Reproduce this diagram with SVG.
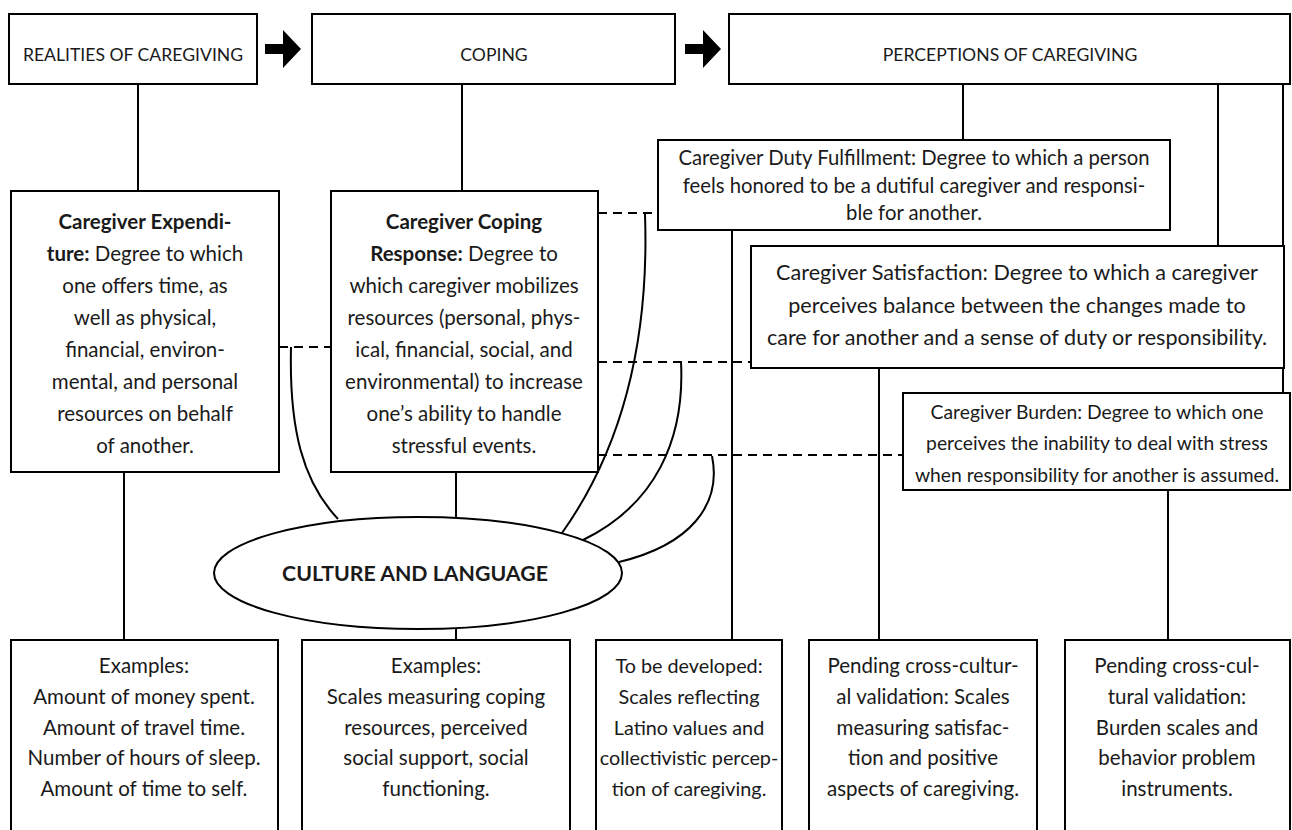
<svg xmlns="http://www.w3.org/2000/svg" width="1292" height="830" viewBox="0 0 1292 830">
<style>
.box{fill:#fff;stroke:#000;stroke-width:2}
.ln{fill:none;stroke:#000;stroke-width:2}
.dash{fill:none;stroke:#000;stroke-width:2;stroke-dasharray:9 6}
text{font-family:Lato,"Liberation Sans",sans-serif;fill:#1a1a1a;text-anchor:middle}
.h{font-size:17.6px}
.m{font-size:20.5px}
.b{font-size:20.5px}
.r{font-size:20.3px}
.s{font-size:21.6px}
.bu{font-size:19.3px}
.bold{font-weight:bold}
</style>
<rect width="1292" height="830" fill="#fff"/>
<g id="connectors">
<line class="ln" x1="138" y1="84" x2="138" y2="191"/>
<line class="ln" x1="462" y1="84" x2="462" y2="191"/>
<line class="ln" x1="963" y1="84" x2="963" y2="140"/>
<line class="ln" x1="1218" y1="84" x2="1218" y2="246"/>
<line class="ln" x1="1283" y1="84" x2="1283" y2="393"/>
<line class="ln" x1="124" y1="472" x2="124" y2="640"/>
<line class="ln" x1="456" y1="472" x2="456" y2="517"/>
<line class="ln" x1="456" y1="629" x2="456" y2="640"/>
<line class="ln" x1="732" y1="230" x2="732" y2="640"/>
<line class="ln" x1="879" y1="368" x2="879" y2="640"/>
<line class="ln" x1="1168" y1="490" x2="1168" y2="640"/>
<line class="dash" x1="279" y1="347" x2="331" y2="347"/>
<line class="dash" x1="598" y1="213" x2="658" y2="213"/>
<line class="dash" x1="598" y1="362" x2="751" y2="362"/>
<line class="dash" x1="598" y1="455" x2="903" y2="455"/>
<path class="ln" d="M291 347 C289 430 303 482 338 519"/>
<path class="ln" d="M645 214 C649 330 628 440 562 533"/>
<path class="ln" d="M681 362 C685 440 655 505 583 540"/>
<path class="ln" d="M712 456 C722 505 690 545 619 562"/>
<path d="M265 44 H283 V30 L301 49 L283 68 V54 H265 Z" fill="#000"/>
<path d="M685 44 H703 V30 L721 49 L703 68 V54 H685 Z" fill="#000"/>
</g>
<g id="realities">
<rect class="box" x="9" y="14" width="248" height="70"/>
<text class="h" x="133" y="61">REALITIES OF CAREGIVING</text>
</g>
<g id="coping">
<rect class="box" x="312" y="14" width="363" height="70"/>
<text class="h" x="494" y="61">COPING</text>
</g>
<g id="perceptions">
<rect class="box" x="729" y="14" width="561" height="70"/>
<text class="h" x="1010" y="61">PERCEPTIONS OF CAREGIVING</text>
</g>
<g id="expenditure">
<rect class="box" x="11" y="191" width="268" height="281"/>
<text class="m" x="145"><tspan class="bold" x="145" y="229">Caregiver Expendi-</tspan><tspan x="145" y="261"><tspan class="bold">ture:</tspan> Degree to which</tspan><tspan x="145" y="293">one offers time, as</tspan><tspan x="145" y="325">well as physical,</tspan><tspan x="145" y="357">financial, environ-</tspan><tspan x="145" y="389">mental, and personal</tspan><tspan x="145" y="421">resources on behalf</tspan><tspan x="145" y="453">of another.</tspan></text>
</g>
<g id="coping-response">
<rect class="box" x="331" y="191" width="267" height="281"/>
<text class="m" x="464"><tspan class="bold" x="464" y="229">Caregiver Coping</tspan><tspan x="464" y="261"><tspan class="bold">Response:</tspan> Degree to</tspan><tspan x="464" y="293">which caregiver mobilizes</tspan><tspan x="464" y="325">resources (personal, phys-</tspan><tspan x="464" y="357">ical, financial, social, and</tspan><tspan x="464" y="389">environmental) to increase</tspan><tspan x="464" y="421">one’s ability to handle</tspan><tspan x="464" y="453">stressful events.</tspan></text>
</g>
<g id="duty">
<rect class="box" x="658" y="140" width="512" height="90"/>
<text class="r" x="914"><tspan x="914" y="165">Caregiver Duty Fulfillment: Degree to which a person</tspan><tspan x="914" y="193">feels honored to be a dutiful caregiver and responsi-</tspan><tspan x="914" y="220">ble for another.</tspan></text>
</g>
<g id="satisfaction">
<rect class="box" x="751" y="246" width="533" height="122"/>
<text class="s" x="1017"><tspan x="1017" y="280">Caregiver Satisfaction: Degree to which a caregiver</tspan><tspan x="1017" y="313">perceives balance between the changes made to</tspan><tspan x="1017" y="345">care for another and a sense of duty or responsibility.</tspan></text>
</g>
<g id="burden">
<rect class="box" x="903" y="393" width="387" height="97"/>
<text class="bu" x="1097"><tspan x="1097" y="419">Caregiver Burden: Degree to which one</tspan><tspan x="1097" y="450">perceives the inability to deal with stress</tspan><tspan x="1097" y="482">when responsibility for another is assumed.</tspan></text>
</g>
<g id="culture">
<ellipse class="box" cx="418" cy="573" rx="204" ry="56"/>
<text class="bold" x="415" y="581" style="font-size:21.3px">CULTURE AND LANGUAGE</text>
</g>
<g id="ex-realities">
<rect class="box" x="11" y="640" width="267" height="200"/>
<text class="b" x="144"><tspan x="144" y="673">Examples:</tspan><tspan x="144" y="704">Amount of money spent.</tspan><tspan x="144" y="735">Amount of travel time.</tspan><tspan x="144" y="765">Number of hours of sleep.</tspan><tspan x="144" y="796">Amount of time to self.</tspan></text>
</g>
<g id="ex-coping">
<rect class="box" x="302" y="640" width="268" height="200"/>
<text class="b" x="436"><tspan x="436" y="673">Examples:</tspan><tspan x="436" y="704">Scales measuring coping</tspan><tspan x="436" y="735">resources, perceived</tspan><tspan x="436" y="765">social support, social</tspan><tspan x="436" y="796">functioning.</tspan></text>
</g>
<g id="ex-duty">
<rect class="box" x="596" y="640" width="186" height="200"/>
<text class="b" x="689" style="font-size:19.8px"><tspan x="689" y="673">To be developed:</tspan><tspan x="689" y="704">Scales reflecting</tspan><tspan x="689" y="735">Latino values and</tspan><tspan x="689" y="765">collectivistic percep-</tspan><tspan x="689" y="796">tion of caregiving.</tspan></text>
</g>
<g id="ex-satisfaction">
<rect class="box" x="809" y="640" width="228" height="200"/>
<text class="b" x="923"><tspan x="923" y="673">Pending cross-cultur-</tspan><tspan x="923" y="704">al validation: Scales</tspan><tspan x="923" y="735">measuring satisfac-</tspan><tspan x="923" y="765">tion and positive</tspan><tspan x="923" y="796">aspects of caregiving.</tspan></text>
</g>
<g id="ex-burden">
<rect class="box" x="1065" y="640" width="225" height="200"/>
<text class="b" x="1177"><tspan x="1177" y="673">Pending cross-cul-</tspan><tspan x="1177" y="704">tural validation:</tspan><tspan x="1177" y="735">Burden scales and</tspan><tspan x="1177" y="765">behavior problem</tspan><tspan x="1177" y="796">instruments.</tspan></text>
</g>
</svg>
